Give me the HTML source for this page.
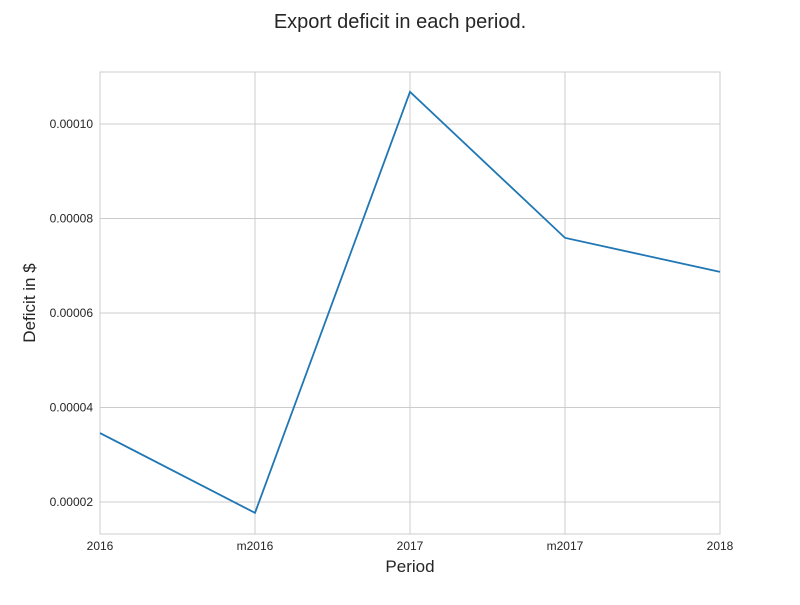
<!DOCTYPE html>
<html><head><meta charset="utf-8"><style>
body{margin:0;background:#fff;font-family:"Liberation Sans",sans-serif;}
</style></head><body>
<svg width="800" height="600" xmlns="http://www.w3.org/2000/svg">
<rect width="800" height="600" fill="#fff"/>
<g id="grid"></g>
<rect x="100" y="72" width="620" height="462" fill="none" stroke="#ccc" stroke-width="1"/>
<g id="marks"></g>
<g id="ticks" font-size="12" fill="#262626"></g>
<text x="400" y="28" text-anchor="middle" font-size="20" fill="#262626">Export deficit in each period.</text>
<text x="410" y="572" text-anchor="middle" font-size="17" fill="#262626">Period</text>
<text transform="translate(35,303) rotate(-90)" text-anchor="middle" font-size="17" fill="#262626">Deficit in $</text>
</svg>
<script>
const categories=["2016","m2016","2017","m2017","2018"];
const values=[0.0000346,0.0000177,0.0001068,0.0000759,0.0000687];
const yTicks=[0.00002,0.00004,0.00006,0.00008,0.00010];
const yTickLabels=["0.00002","0.00004","0.00006","0.00008","0.00010"];
const ns="http://www.w3.org/2000/svg";
const X0=100,X1=720,Y0=534,Y1=72,yMin=0.00001323,yMax=0.000111;
const xs=i=>X0+i*(X1-X0)/(categories.length-1);
const ys=v=>Y0-(v-yMin)/(yMax-yMin)*(Y0-Y1);
const grid=document.getElementById('grid'),ticks=document.getElementById('ticks'),marks=document.getElementById('marks');
function mk(t,a){const e=document.createElementNS(ns,t);for(const k in a)e.setAttribute(k,a[k]);return e;}
categories.forEach((c,i)=>{
 const l=mk('line',{x1:xs(i),x2:xs(i),y1:Y1,y2:Y0,stroke:'#ccc'});
 
 
 grid.appendChild(l);
 const t=mk('text',{x:xs(i),y:550,'text-anchor':'middle'});t.textContent=c;
 
 
 ticks.appendChild(t);
});
yTicks.forEach((v,i)=>{
 const l=mk('line',{x1:X0,x2:X1,y1:ys(v),y2:ys(v),stroke:'#ccc'});
 
 
 grid.appendChild(l);
 const t=mk('text',{x:93,y:ys(v)+4,'text-anchor':'end'});t.textContent=yTickLabels[i];
 
 
 ticks.appendChild(t);
});
const p=mk('polyline',{points:values.map((v,i)=>xs(i)+','+ys(v)).join(' '),fill:'none',stroke:'#1f77b4','stroke-width':1.8});


marks.appendChild(p);
</script>
</body></html>
